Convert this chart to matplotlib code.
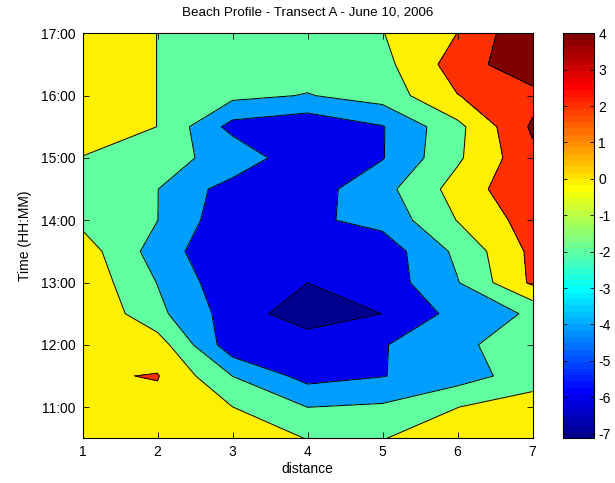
import numpy as np
import matplotlib
matplotlib.use("Agg")
import matplotlib.pyplot as plt
from matplotlib.colors import ListedColormap, Normalize
import matplotlib.cm as cm

# ---- data -------------------------------------------------------------
distance = [1, 2, 3, 4, 5, 6, 7]
time_hours = [10.5, 11.0, 11.5, 12.0, 12.5, 13.0, 13.5,
              14.0, 14.5, 15.0, 15.5, 16.0, 16.5, 17.0]
# elevation[row for each time][column for each distance]
elevation = [
    [1.00, 1.00, 1.00, -0.05, -0.06, 0.94, 1.20],    # 10:30
    [1.20, 1.45, 0.02, -2.01, -1.72, -0.02, 1.00],   # 11:00
    [1.77, 2.10, -2.02, -4.70, -4.07, -2.92, -1.00], # 11:30
    [1.50, 1.00, -5.28, -4.87, -4.15, -2.31, -1.20], # 12:00
    [1.99, -1.50, -4.95, -7.13, -5.98, -3.35, -1.70],# 12:30
    [1.44, -2.06, -5.47, -5.99, -5.12, -2.10, 2.35], # 13:00
    [1.02, -2.90, -5.90, -5.60, -5.14, -1.57, 2.46], # 13:30
    [-0.50, -1.98, -5.50, -4.38, -3.38, 0.07, 2.91], # 14:00
    [-1.00, -1.97, -4.97, -4.93, -2.66, 0.79, 3.74], # 14:30
    [-0.05, -1.70, -2.30, -5.90, -4.10, -0.30, 3.50],# 15:00
    [0.80, -0.01, -4.70, -5.50, -4.11, -0.54, 4.30], # 15:30
    [0.80, -0.01, -1.51, -2.10, -1.15, 1.95, 3.30],  # 16:00
    [0.80, -0.01, -1.00, -1.00, -0.60, 2.91, 5.57],  # 16:30
    [0.80, -0.01, -1.00, -1.20, -0.06, 2.02, 5.83],  # 17:00
]
contour_levels = [-6, -4, -2, 0, 2, 4]
colorbar_ticks = [-7, -6, -5, -4, -3, -2, -1, 0, 1, 2, 3, 4]
time_ticks = [11, 12, 13, 14, 15, 16, 17]
time_labels = ["11:00", "12:00", "13:00", "14:00", "15:00", "16:00", "17:00"]
x_ticks = [1, 2, 3, 4, 5, 6, 7]

title = "Beach Profile - Transect A - June 10, 2006"
xlabel = "distance"
ylabel = "Time (HH:MM)"

# ---- MATLAB-like jet(64) ---------------------------------------------
def matlab_jet(n=64):
    k = np.arange(1, n + 1)
    v = 4.0 * k / n
    r = np.clip(np.minimum(v - 1.5, -v + 4.5), 0, 1)
    g = np.clip(np.minimum(v - 0.5, -v + 3.5), 0, 1)
    b = np.clip(np.minimum(v + 0.5, -v + 2.5), 0, 1)
    return np.column_stack([r, g, b])

jet64 = matlab_jet(64)
Z = np.array(elevation)
X, Y = np.meshgrid(distance, time_hours)
cmin = Z.min()
cmax = max(contour_levels)

def level_color(c):
    idx = int(np.floor((c - cmin) / (cmax - cmin) * 64))
    idx = min(max(idx, 0), 63)
    return tuple(jet64[idx])

fill_bounds = [cmin - 1.0] + contour_levels + [Z.max() + 1.0]
fill_colors = [level_color(cmin)] + [level_color(l) for l in contour_levels]

plt.rcParams["font.family"] = ["Liberation Sans", "DejaVu Sans"]
plt.rcParams["font.size"] = 10
plt.rcParams["axes.unicode_minus"] = False

fig = plt.figure(figsize=(6.15, 4.83), dpi=100)
ax = fig.add_axes([82.5 / 615, (483 - 438.3) / 483, 450 / 615, 405 / 483])
ax.contourf(X, Y, Z, levels=fill_bounds, colors=fill_colors)
ax.contour(X, Y, Z, levels=contour_levels, colors="k", linewidths=0.7,
           linestyles="solid")

ax.set_xlim(1, 7)
ax.set_ylim(10.5, 17)
ax.set_xticks(x_ticks)
ax.set_yticks(time_ticks)
ax.set_yticklabels(time_labels)
ax.tick_params(direction="in", top=True, right=True, length=4, width=0.6,
               labelsize=10, pad=5)
for s in ax.spines.values():
    s.set_linewidth(0.8)
ax.set_title(title, fontsize=9.6, pad=13)
ax.set_xlabel(xlabel, fontsize=10, labelpad=2)
ax.set_ylabel(ylabel, fontsize=10, labelpad=6)

cax = fig.add_axes([563 / 615, (483 - 438.3) / 483, 31 / 615, 405 / 483])
sm = cm.ScalarMappable(norm=Normalize(cmin, cmax), cmap=ListedColormap(jet64))
cb = fig.colorbar(sm, cax=cax, ticks=colorbar_ticks)
cb.outline.set_linewidth(0.8)
cax.tick_params(direction="in", left=True, right=True, length=3, width=0.6,
                labelsize=10, pad=3)

fig.savefig("out.png", dpi=100, facecolor="white")
